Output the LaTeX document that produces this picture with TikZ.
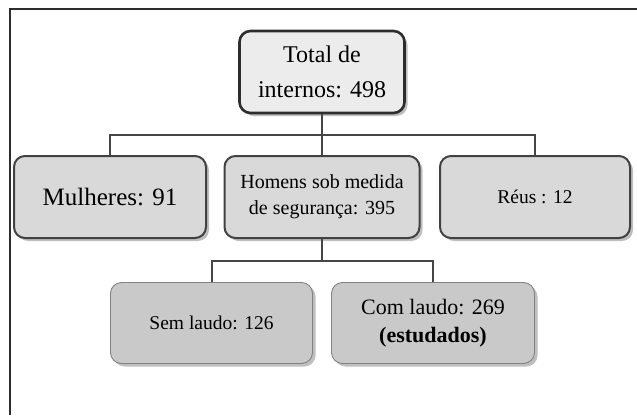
\documentclass[tikz,border=0pt]{standalone}
\usepackage{fontspec}
\setmainfont{Liberation Serif}
\usetikzlibrary{positioning, shadows}
\definecolor{framecol}{RGB}{45,45,45}
\definecolor{linecol}{RGB}{70,70,70}
\definecolor{topfill}{RGB}{236,236,236}
\definecolor{midfill}{RGB}{217,217,217}
\definecolor{lowfill}{RGB}{201,201,201}
\definecolor{lowedge}{RGB}{130,130,130}
\begin{document}
\begin{tikzpicture}[x=1pt, y=-1pt,
  box/.style={rectangle, rounded corners=11pt, align=center, inner sep=2pt,
    drop shadow={shadow xshift=3pt, shadow yshift=-3pt, fill=black, opacity=0.25}},
  topbox/.style={box, draw=framecol, line width=2.6pt, fill=topfill,
    minimum width=165pt, minimum height=82pt},
  midbox/.style={box, draw=framecol!90, line width=2pt, fill=midfill,
    minimum height=82pt},
  lowbox/.style={box, draw=lowedge, line width=0.9pt, fill=lowfill,
    minimum height=81pt},
  conn/.style={draw=linecol, line width=2pt}]
\useasboundingbox (0,0) rectangle (637,415);
% Frame (open to the right and below)
\draw[framecol, line width=2.5pt] (637,9) -- (10,9) -- (10,415);
% Top
\node[topbox, font=\fontsize{24}{35}\selectfont] (total) at (322,72)
  {Total de\\internos: 498};
% Second row
\node[midbox, minimum width=192pt, font=\fontsize{25}{30}\selectfont] (mulheres) at (110,197)
  {Mulheres: 91};
\node[midbox, minimum width=195pt, font=\fontsize{20}{26}\selectfont] (homens) at (322,197)
  {Homens sob medida\\de segurança: 395};
\node[midbox, minimum width=190pt, font=\fontsize{19.5}{25}\selectfont] (reus) at (535,197)
  {Réus : 12};
% Third row
\node[lowbox, minimum width=202pt, font=\fontsize{19.5}{25}\selectfont] (semlaudo) at (211.5,323)
  {Sem laudo: 126};
\node[lowbox, minimum width=203pt, font=\fontsize{22}{28}\selectfont] (comlaudo) at (433,323)
  {Com laudo: 269\\\textbf{(estudados)}};
% Connectors
\draw[conn] (total.south) -- ++(0,21) coordinate (hubtop);
\draw[conn] (hubtop) -- (homens.north);
\draw[conn] (mulheres.north) |- (hubtop) -| (reus.north);
\draw[conn] (homens.south) -- ++(0,22) coordinate (hubmid);
\draw[conn] (semlaudo.north) |- (hubmid) -| (comlaudo.north);
\end{tikzpicture}
\end{document}
